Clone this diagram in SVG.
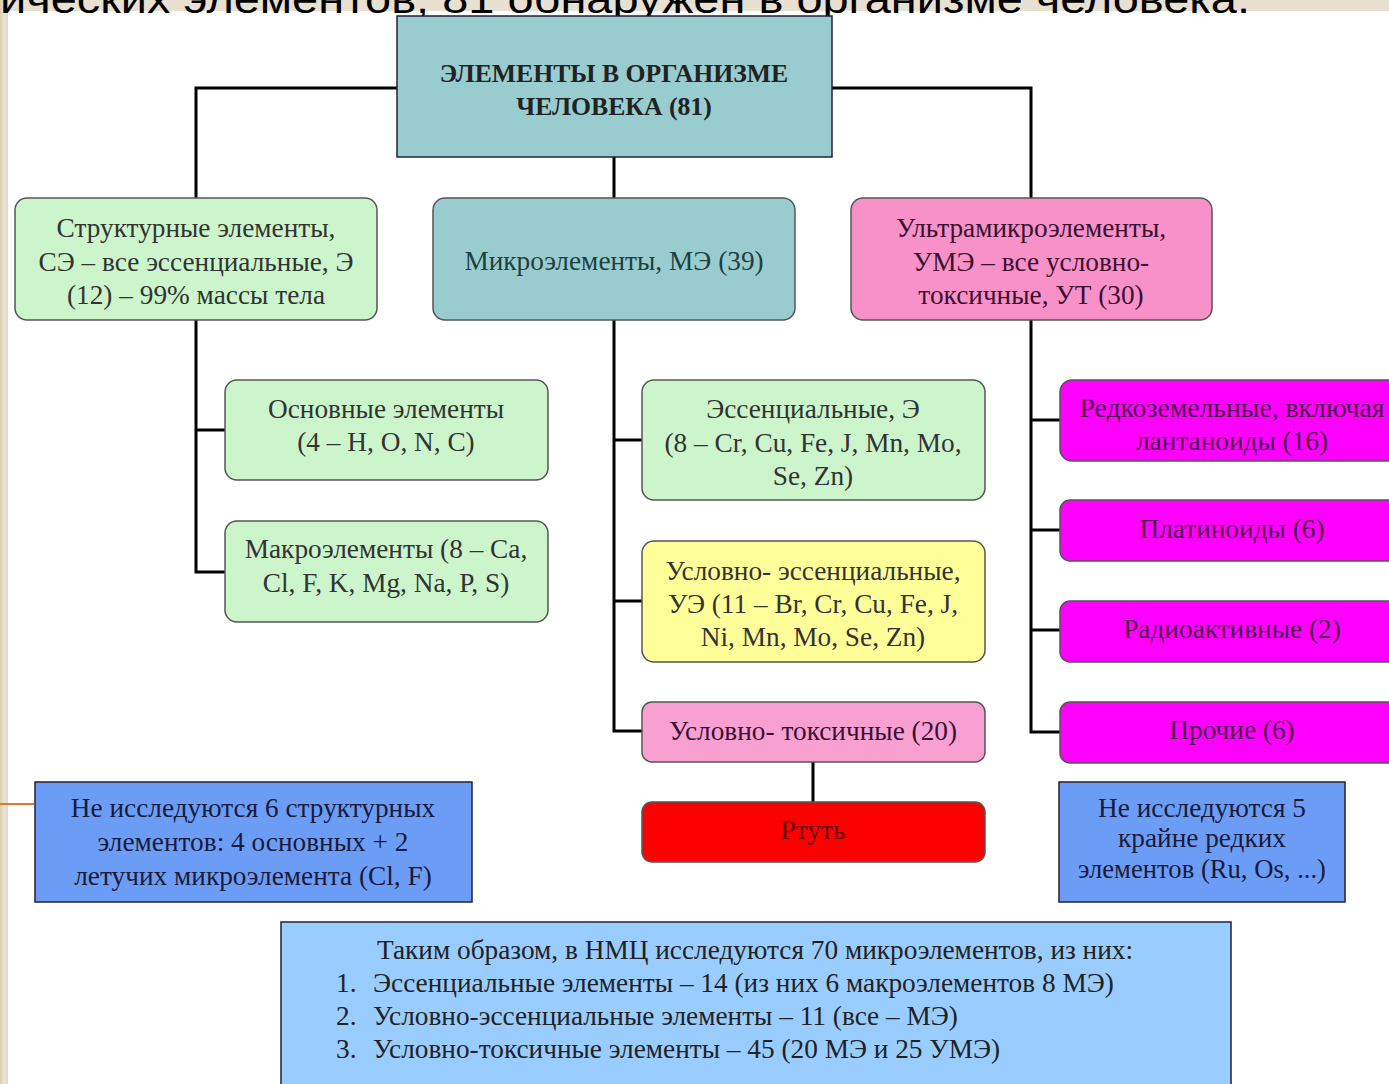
<svg xmlns="http://www.w3.org/2000/svg" width="1389" height="1084" viewBox="0 0 1389 1084">
<defs>
<linearGradient id="beige" x1="0" y1="0" x2="1" y2="0">
<stop offset="0" stop-color="#d9ccb2"/><stop offset="0.5" stop-color="#ece4d4"/><stop offset="1" stop-color="#e2d8c4"/>
</linearGradient>
<style>
.t{font-family:"Liberation Serif","Times New Roman",serif;font-size:27.3px;text-anchor:middle;fill:#333}
.b{font-weight:bold;fill:#222;font-size:25.7px}
.rb{stroke:#555;stroke-width:1.5}
.sq{stroke:#223;stroke-width:1.5}
.green{fill:#ccf5cc}
.teal{fill:#98ccce}
.pink{fill:#f791c8}
.mag{fill:#ff00ff}
.yel{fill:#ffff99}
.blue{fill:#6b9df6}
.lb{fill:#99ccff}
.mt{fill:#4a1648}
.dk{fill:#1a1a3a}
.st{fill:#222;text-anchor:start}
.conn{fill:none;stroke:#000;stroke-width:3}
</style>
</defs>
<rect x="0" y="0" width="1389" height="1084" fill="#e8e0d0"/>
<rect x="0" y="0" width="8" height="1084" fill="url(#beige)"/>
<rect x="8" y="11" width="1381" height="1073" fill="#ffffff"/>
<line x1="0" y1="804" x2="34" y2="804" stroke="#e07828" stroke-width="2"/>
<text x="0" y="13" font-family="Liberation Sans, Arial, sans-serif" font-size="40" fill="#000" textLength="1250" lengthAdjust="spacingAndGlyphs">ических элементов, 81 обнаружен в организме человека.</text>

<g id="connectors" class="conn">
<polyline points="397,88 196,88 196,198"/>
<polyline points="832,88 1031,88 1031,198"/>
<line x1="614" y1="157" x2="614" y2="198"/>
<polyline points="196,320 196,572 225,572"/>
<line x1="196" y1="430" x2="225" y2="430"/>
<polyline points="614,320 614,731 642,731"/>
<line x1="614" y1="440" x2="642" y2="440"/>
<line x1="614" y1="601" x2="642" y2="601"/>
<line x1="813" y1="762" x2="813" y2="802"/>
<polyline points="1031,320 1031,732 1060,732"/>
<line x1="1031" y1="420" x2="1060" y2="420"/>
<line x1="1031" y1="530" x2="1060" y2="530"/>
<line x1="1031" y1="630" x2="1060" y2="630"/>
</g>

<g id="root">
<rect x="397" y="16" width="435" height="141" class="teal sq"/>
<text class="t b" x="614" y="82">ЭЛЕМЕНТЫ В ОРГАНИЗМЕ</text>
<text class="t b" x="614" y="115">ЧЕЛОВЕКА (81)</text>
</g>

<g id="structural">
<rect x="15" y="198" width="362" height="122" rx="12" class="green rb"/>
<text class="t" x="196" y="237">Структурные элементы,</text>
<text class="t" x="196" y="271">СЭ – все эссенциальные, Э</text>
<text class="t" x="196" y="304">(12) – 99% массы тела</text>
</g>

<g id="micro">
<rect x="433" y="198" width="362" height="122" rx="12" class="teal rb"/>
<text class="t" x="614" y="270" style="fill:#1f3f40">Микроэлементы, МЭ (39)</text>
</g>

<g id="ultra">
<rect x="851" y="198" width="361" height="122" rx="12" class="pink rb"/>
<text class="t" x="1031" y="237" style="fill:#3a1030">Ультрамикроэлементы,</text>
<text class="t" x="1031" y="271" style="fill:#3a1030">УМЭ – все условно-</text>
<text class="t" x="1031" y="304" style="fill:#3a1030">токсичные, УТ (30)</text>
</g>

<g id="basic">
<rect x="225" y="380" width="323" height="100" rx="12" class="green rb"/>
<text class="t" x="386" y="418">Основные элементы</text>
<text class="t" x="386" y="451">(4 – H, O, N, C)</text>
</g>

<g id="macro">
<rect x="225" y="521" width="323" height="101" rx="12" class="green rb"/>
<text class="t" x="386" y="558">Макроэлементы (8 – Ca,</text>
<text class="t" x="386" y="592">Cl, F, K, Mg, Na, P, S)</text>
</g>

<g id="essential">
<rect x="642" y="380" width="343" height="120" rx="12" class="green rb"/>
<text class="t" x="813" y="418">Эссенциальные, Э</text>
<text class="t" x="813" y="452">(8 – Cr, Cu, Fe, J, Mn, Mo,</text>
<text class="t" x="813" y="485">Se, Zn)</text>
</g>

<g id="cond-essential">
<rect x="642" y="541" width="343" height="121" rx="12" class="yel rb"/>
<text class="t" x="813" y="580">Условно- эссенциальные,</text>
<text class="t" x="813" y="613">УЭ (11 – Br, Cr, Cu, Fe, J,</text>
<text class="t" x="813" y="646">Ni, Mn, Mo, Se, Zn)</text>
</g>

<g id="cond-toxic">
<rect x="642" y="702" width="343" height="60" rx="10" class="pink rb" style="fill:#f8a0d2"/>
<text class="t" x="813" y="740" style="fill:#3a1030">Условно- токсичные (20)</text>
</g>

<g id="mercury">
<rect x="642" y="802" width="343" height="60" rx="10" class="rb" fill="#ff0000"/>
<text class="t" x="813" y="839" style="fill:#6a0000">Ртуть</text>
</g>

<g id="rare-earth">
<rect x="1060" y="380" width="340" height="81" rx="12" class="mag rb"/>
<text class="t mt" x="1232" y="417" textLength="305" lengthAdjust="spacingAndGlyphs">Редкоземельные, включая</text>
<text class="t mt" x="1232" y="450">лантаноиды (16)</text>
</g>

<g id="platinoids">
<rect x="1060" y="500" width="340" height="61" rx="10" class="mag rb"/>
<text class="t mt" x="1232" y="538">Платиноиды (6)</text>
</g>

<g id="radioactive">
<rect x="1060" y="601" width="340" height="61" rx="10" class="mag rb"/>
<text class="t mt" x="1232" y="638">Радиоактивные (2)</text>
</g>

<g id="other">
<rect x="1060" y="702" width="340" height="61" rx="10" class="mag rb"/>
<text class="t mt" x="1232" y="739">Прочие (6)</text>
</g>

<g id="not-studied-left">
<rect x="35" y="782" width="437" height="120" class="blue sq"/>
<text class="t dk" x="253" y="817">Не исследуются 6 структурных</text>
<text class="t dk" x="253" y="851">элементов: 4 основных + 2</text>
<text class="t dk" x="253" y="885">летучих микроэлемента (Cl, F)</text>
</g>

<g id="not-studied-right">
<rect x="1059" y="782" width="286" height="120" class="blue sq"/>
<text class="t dk" x="1202" y="817">Не исследуются 5</text>
<text class="t dk" x="1202" y="847">крайне редких</text>
<text class="t dk" x="1202" y="878" textLength="248" lengthAdjust="spacingAndGlyphs">элементов (Ru, Os, ...)</text>
</g>

<g id="summary">
<rect x="281" y="922" width="950" height="170" class="lb sq"/>
<text class="t" x="755" y="959" style="fill:#222">Таким образом, в НМЦ исследуются 70 микроэлементов, из них:</text>
<text class="t st" x="336" y="992">1.</text>
<text class="t st" x="373" y="992">Эссенциальные элементы – 14 (из них 6 макроэлементов 8 МЭ)</text>
<text class="t st" x="336" y="1025">2.</text>
<text class="t st" x="373" y="1025">Условно-эссенциальные элементы – 11 (все – МЭ)</text>
<text class="t st" x="336" y="1058">3.</text>
<text class="t st" x="373" y="1058">Условно-токсичные элементы – 45 (20 МЭ и 25 УМЭ)</text>
</g>
</svg>
